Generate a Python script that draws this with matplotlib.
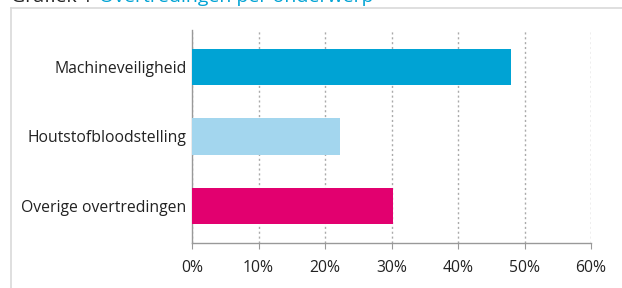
import matplotlib.pyplot as plt
from matplotlib.lines import Line2D

categories = ["Machineveiligheid", "Houtstofbloodstelling", "Overige overtredingen"]
values = [48, 22.2, 30.2]
colors = ["#00A3D4", "#A3D6EE", "#E2006F"]
ticks = [0, 10, 20, 30, 40, 50, 60]

plt.rcParams['font.family'] = ['Open Sans', 'DejaVu Sans']

fig = plt.figure(figsize=(6.22, 2.88), dpi=100)
W, H = 622, 288

# outer frame (only left and top visible)
fig.add_artist(Line2D([11 / W, 11 / W], [0, 1 - 8 / H], color="#d9d9d9", lw=1.2))
fig.add_artist(Line2D([11 / W, 1], [1 - 8 / H, 1 - 8 / H], color="#d9d9d9", lw=1.2))

# title, cut off at the top as in the original
fig.text(11 / W, 1 - 2 / H, "Grafiek 1", fontsize=14, color="#222222",
         va="baseline", ha="left")
fig.text(99 / W, 1 - 2 / H, "Overtredingen per onderwerp", fontsize=14,
         color="#00A3D4", va="baseline", ha="left")

ax = fig.add_axes([192 / W, 1 - 243 / H, (591 - 192) / W, (243 - 30) / H])
ypos = list(range(len(categories)))
ax.barh(ypos, values, height=0.52, color=colors, zorder=3)
ax.set_ylim(2.53, -0.53)
ax.set_xlim(0, 60)
ax.set_yticks(ypos)
ax.set_yticklabels(categories, fontsize=11.3, color="#222222")
ax.set_xticks(ticks)
ax.set_xticklabels([f"{v}%" for v in ticks], fontsize=11.3, color="#222222")
ax.tick_params(axis="y", length=0, pad=4)
ax.tick_params(axis="x", length=4, color="#999999", pad=8, direction="out")
ax.grid(axis="x", linestyle=(0, (1.5, 2)), color="#aaaaaa", lw=1, zorder=0)
for s in ["top", "right"]:
    ax.spines[s].set_visible(False)
for s in ["left", "bottom"]:
    ax.spines[s].set_color("#999999")
    ax.spines[s].set_linewidth(1)

fig.savefig("out.png", dpi=100)
